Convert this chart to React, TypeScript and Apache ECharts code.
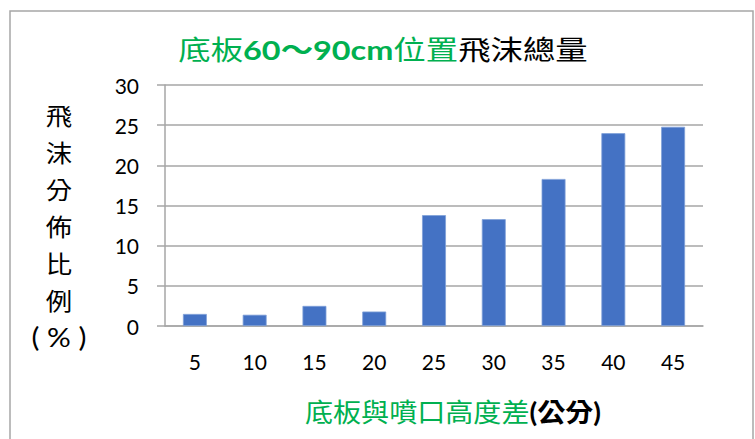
import React, { useEffect, useRef } from "react";
import * as echarts from "echarts";

// Height difference between base plate and nozzle (cm)
const distances = ["5", "10", "15", "20", "25", "30", "35", "40", "45"];
// Splash distribution ratio (%)
const splashRatio = [1.5, 1.4, 2.5, 1.8, 13.8, 13.3, 18.3, 24.0, 24.8];

const yTicks = { min: 0, max: 30, interval: 5 };

const GREEN = "#00b050";
const GRID_GRAY = "#a6a6a6";
const FONT = "Lato, 'Noto Sans CJK TC', sans-serif";

export default function App() {
  const ref = useRef<HTMLDivElement>(null);

  useEffect(() => {
    if (!ref.current) return;
    const chart = echarts.init(ref.current, undefined, { renderer: "svg" });
    chart.setOption({
      animation: false,
      backgroundColor: "#ffffff",
      grid: { left: 165, right: 52, top: 85, bottom: 113 },
      xAxis: {
        type: "category",
        data: distances,
        axisLine: { lineStyle: { color: GRID_GRAY, width: 1.5 } },
        axisTick: { length: 7, lineStyle: { color: GRID_GRAY, width: 1.5 } },
        axisLabel: { color: "#000", fontSize: 21, fontFamily: FONT, margin: 25 },
      },
      yAxis: {
        type: "value",
        min: yTicks.min,
        max: yTicks.max,
        interval: yTicks.interval,
        axisLine: { show: true, lineStyle: { color: GRID_GRAY, width: 1.5 } },
        axisTick: { show: true, length: 8, lineStyle: { color: GRID_GRAY, width: 1.5 } },
        splitLine: { lineStyle: { color: GRID_GRAY, width: 1.5 } },
        axisLabel: { color: "#000", fontSize: 21, fontFamily: FONT, margin: 26 },
      },
      series: [
        {
          type: "bar",
          data: splashRatio,
          barWidth: "40%",
          itemStyle: { color: "#4472c4", borderColor: "#7f9fd8", borderWidth: 0.8 },
        },
      ],
      graphic: [
        {
          type: "rect",
          shape: { x: 10, y: 11, width: 743, height: 440 },
          style: { fill: "none", stroke: "#a6a6a6", lineWidth: 1.5 },
          silent: true,
        },
        {
          type: "text",
          x: 383,
          y: 50,
          scaleX: 1.2,
          style: {
            text: "{g|底板}{gb|60～90cm}{g|位置}{k|飛沫總量}",
            textAlign: "center",
            textVerticalAlign: "middle",
            rich: {
              g: { fill: GREEN, fontSize: 27, fontFamily: FONT },
              gb: { fill: GREEN, fontSize: 27, fontWeight: "bold", fontFamily: FONT },
              k: { fill: "#000", fontSize: 27, fontFamily: FONT },
            },
          },
        },
        {
          type: "text",
          x: 453,
          y: 412,
          scaleX: 1.08,
          style: {
            text: "{g|底板與噴口高度差}{k|(公分)}",
            textAlign: "center",
            textVerticalAlign: "middle",
            rich: {
              g: { fill: GREEN, fontSize: 26, fontFamily: FONT },
              k: { fill: "#000", fontSize: 26, fontWeight: "bold", fontFamily: FONT },
            },
          },
        },
        {
          type: "text",
          x: 59,
          y: 226,
          scaleX: 1.1,
          style: {
            text: "{c|飛}\n{c|沫}\n{c|分}\n{c|佈}\n{c|比}\n{c|例}\n{p|( % )}",
            textAlign: "center",
            textVerticalAlign: "middle",
            rich: {
              c: { fill: "#000", fontSize: 24, lineHeight: 37, fontFamily: FONT },
              p: { fill: "#000", fontSize: 27, lineHeight: 37, fontFamily: FONT },
            },
          },
        },
      ],
    });
    return () => chart.dispose();
  }, []);

  return (
    <div
      ref={ref}
      style={{ position: "fixed", left: 0, top: 0, width: 755, height: 439 }}
    />
  );
}
